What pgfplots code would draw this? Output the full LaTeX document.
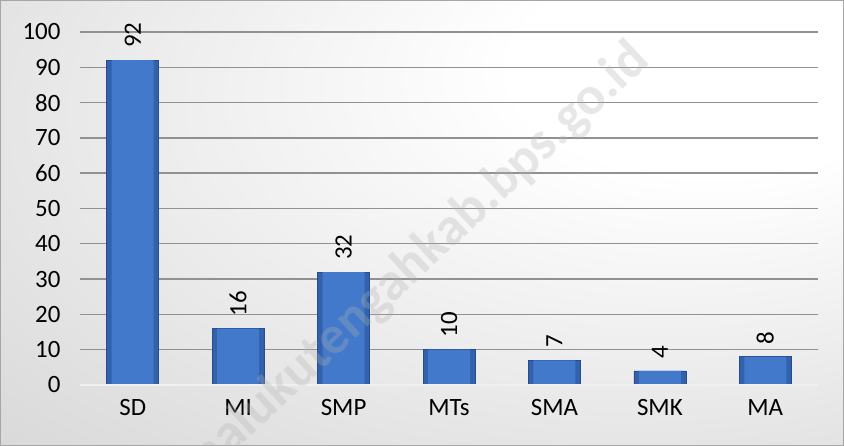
\documentclass[border=0pt]{standalone}
\usepackage{pgfplots}
\pgfplotsset{compat=1.18}
\usepackage{fontspec}
\setmainfont{Carlito}
\definecolor{bgouter}{RGB}{205,205,205}
\definecolor{bgouter2}{RGB}{190,190,190}
\definecolor{barDark}{RGB}{50,98,172}
\definecolor{barMid}{RGB}{66,121,202}
\definecolor{barEdge}{RGB}{38,78,140}
\definecolor{gridc}{RGB}{145,145,145}
\pgfdeclareradialshading{bgshade}{\pgfpoint{20bp}{20bp}}{color(0bp)=(white); color(12bp)=(white); color(60bp)=(bgouter); color(90bp)=(bgouter2)}
\begin{document}
\begin{tikzpicture}[x=1bp,y=1bp]
\shade[shading=bgshade] (0,0) rectangle (844,446);
\draw[gray!70, line width=0.8bp] (0.4,0.4) rectangle (843.6,445.6);
\begin{axis}[
  at={(80bp,61bp)}, anchor=south west,
  scale only axis, width=738bp, height=353bp,
  xmin=-0.5, xmax=6.5, ymin=0, ymax=100,
  ybar=0pt,
  axis line style={draw=none},
  ytick={0,10,...,100},
  xtick=data,
  xticklabels={SD,MI,SMP,MTs,SMA,SMK,MA},
  major tick length=0pt,
  ymajorgrids=true,
  grid style={gridc, line width=1.4bp},
  /pgf/number format/assume math mode=true,
  tick label style={font=\fontsize{25}{29}\selectfont, text=black},
  yticklabel style={xshift=-16bp},
  xticklabel style={yshift=-11bp},
  every node near coord/.append style={rotate=90, anchor=west, inner xsep=12bp, font=\fontsize{25}{29}\selectfont, text=black},
  clip=false,
]
\addplot[bar shift=0pt, bar width=52bp, draw=barEdge, line width=0.6bp, fill=barDark, nodes near coords] coordinates {
  (0,92) (1,16) (2,32) (3,10) (4,7) (5,4) (6,8)
};
\addplot[bar shift=0pt, bar width=42bp, draw=none, fill=barMid] coordinates {
  (0,92) (1,16) (2,32) (3,10) (4,7) (5,4) (6,8)
};
\draw[white!88!gray, line width=2bp] (axis cs:-0.5,0) -- (axis cs:6.5,0);
\end{axis}
\begin{scope}
\clip (0,0) rectangle (844,446);
\node[rotate=43, anchor=east, font=\bfseries\fontsize{54}{60}\selectfont, text=gray!60, opacity=0.3, inner sep=0] at (642,394) {malukutengahkab.bps.go.id};
\end{scope}
\end{tikzpicture}
\end{document}
